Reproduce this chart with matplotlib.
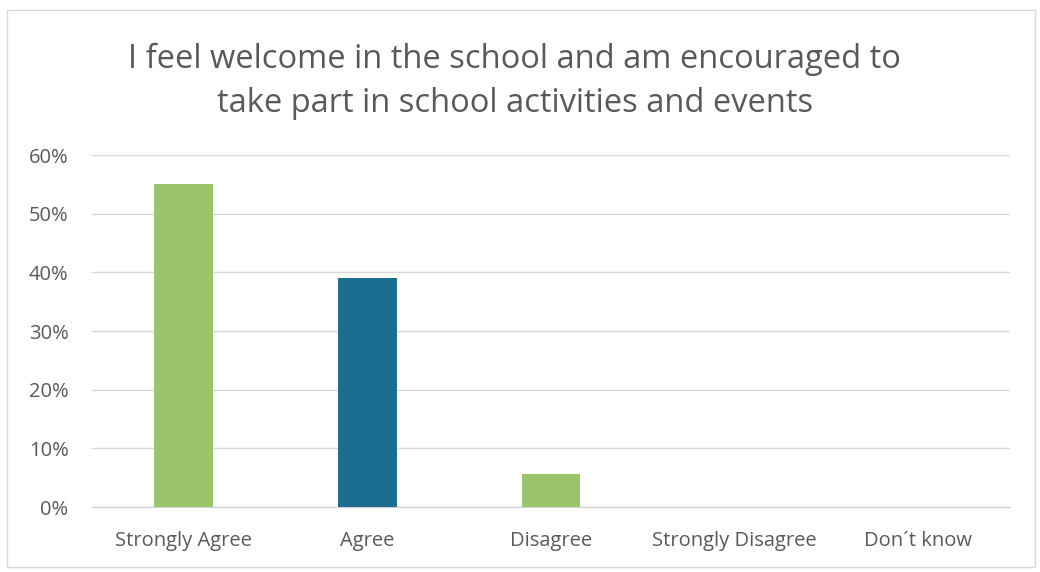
import matplotlib.pyplot as plt
from matplotlib.ticker import PercentFormatter
from matplotlib.patches import Rectangle

# Data
categories = ["Strongly Agree", "Agree", "Disagree", "Strongly Disagree", "Don\u00b4t know"]
values = [0.55, 0.39, 0.056, 0.0, 0.0]
colors = ["#9bc46b", "#1b6e8f", "#9bc46b", "#9bc46b", "#9bc46b"]
title = "I feel welcome in the school and am encouraged to\ntake part in school activities and events"

plt.rcParams['font.family'] = ['Open Sans', 'DejaVu Sans']

fig = plt.figure(figsize=(10.4, 5.72), dpi=100)
ax = fig.add_axes([0.0885, 0.1136, 0.8825, 0.6154])

ax.bar(range(len(categories)), values, width=0.32, color=colors, zorder=3)

ax.set_xlim(-0.5, len(categories) - 0.5)
ax.set_ylim(0, 0.6)
ax.set_yticks([0, 0.1, 0.2, 0.3, 0.4, 0.5, 0.6])
ax.yaxis.set_major_formatter(PercentFormatter(1.0, decimals=0))
ax.set_xticks(range(len(categories)))
ax.set_xticklabels(categories)

ax.grid(axis='y', color='#d9d9d9', linewidth=1, zorder=0)
for s in ['top', 'right', 'left']:
    ax.spines[s].set_visible(False)
ax.spines['bottom'].set_color('#d0d0d0')
ax.tick_params(axis='both', length=0, colors='#595959', labelsize=14.5)
ax.tick_params(axis='x', pad=17)
ax.tick_params(axis='y', pad=17)

fig.text(0.495, 0.858, title, ha='center', va='center', fontsize=23.5,
         color='#595959', linespacing=1.42)

# chart border
fig.patches.append(Rectangle((0.0067, 0.0087), 0.9885, 0.974, transform=fig.transFigure,
                             fill=False, edgecolor='#d9d9d9', linewidth=1))

fig.savefig("out.png", dpi=100)
